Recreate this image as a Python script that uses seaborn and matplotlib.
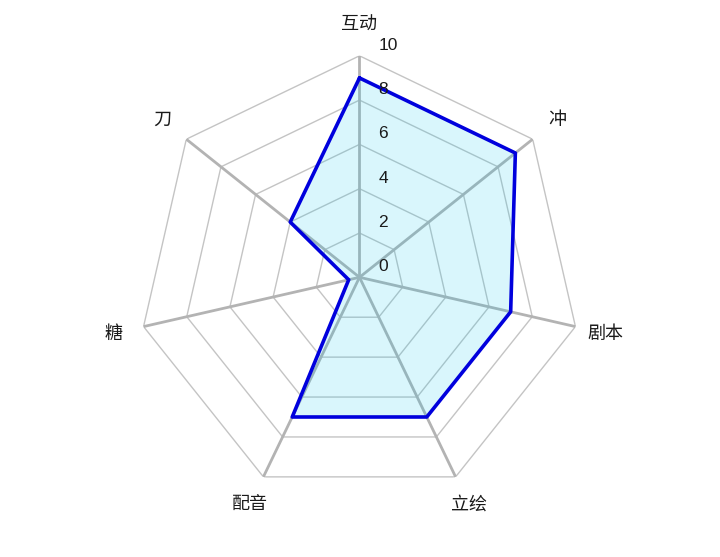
import numpy as np
import pandas as pd
import matplotlib
matplotlib.use("Agg")
import matplotlib.pyplot as plt
import seaborn as sns

categories = ["互动", "冲", "剧本", "立绘", "配音", "糖", "刀"]
scores = [9, 9, 7, 7, 7, 0.5, 4]
ring_levels = [2, 4, 6, 8, 10]
tick_labels = ["0", "2", "4", "6", "8", "10"]

sns.set_theme(style="white")
plt.rcParams["font.family"] = ["Noto Sans CJK SC", "DejaVu Sans"]

n = len(categories)
angles = np.linspace(0, 2 * np.pi, n, endpoint=False)
closed_angles = np.append(angles, 2 * np.pi)

df = pd.DataFrame({"angle": closed_angles, "score": scores + scores[:1]})

fig = plt.figure(figsize=(7.2, 5.57), dpi=100)
# centre at (360, 277) px, radius of ring 10 about 221.5 px
w = 221.5 / 720
h = 221.5 / 557
cy = (557 - 277.3) / 557
ax = fig.add_axes([0.4993 - w, cy - h, 2 * w, 2 * h], projection="polar")
ax.set_theta_offset(np.pi / 2)
ax.set_theta_direction(-1)
ax.set_ylim(0, 10)
ax.grid(False)
ax.spines["polar"].set_visible(False)
ax.set_xticks([])
ax.set_yticks([])
ax.patch.set_alpha(0)

# polygon rings
for lvl in ring_levels:
    ax.plot(closed_angles, [lvl] * (n + 1), color="#c4c4c4", lw=1.0, zorder=1)

# spokes
for a in angles:
    ax.plot([a, a], [0, 10], color="#b3b3b3", lw=2.0, zorder=1)

ax.fill(df["angle"], df["score"], color=(0.0, 0.78, 0.94), alpha=0.15, lw=0, zorder=2)
sns.lineplot(data=df, x="angle", y="score", sort=False, estimator=None, ax=ax,
             color="#0000dd", lw=2.6, zorder=3)
ax.set_xlabel("")
ax.set_ylabel("")
ax.set_ylim(0, 10)

# radial tick labels
for i, lab in enumerate(tick_labels):
    ax.annotate(lab, xy=(0, i * 2), xytext=(19, 10.5), textcoords="offset pixels",
                ha="left", va="center", fontsize=12.5, color="#1a1a1a", zorder=4,
                family=["Liberation Sans", "DejaVu Sans"])

# category labels
for a, c in zip(angles, categories):
    ax.text(a, 11.4, c, ha="center", va="center", fontsize=13, color="#1a1a1a")

fig.savefig("out.png", dpi=100)
